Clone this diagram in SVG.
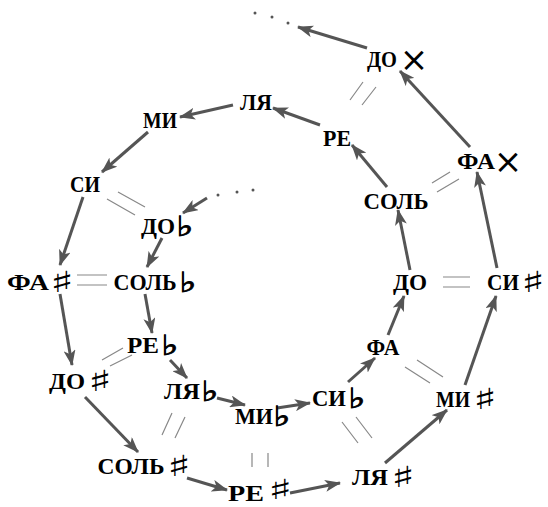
<svg xmlns="http://www.w3.org/2000/svg" width="548" height="507" viewBox="0 0 548 507">
<style>
.n{font-family:"Liberation Serif","Times New Roman",serif;font-weight:bold;font-size:23px;fill:#000;text-anchor:middle}
.s{font-family:"DejaVu Sans",sans-serif;font-weight:bold;font-size:29px;fill:#000;text-anchor:middle}
.f{font-family:"DejaVu Sans",sans-serif;font-weight:bold;font-size:28px;fill:#000;stroke:#000;stroke-width:0.8;text-anchor:middle}
.x{font-family:"DejaVu Sans",sans-serif;font-weight:normal;font-size:34px;fill:#000;text-anchor:middle}
.a{stroke:#555;stroke-width:3;fill:none;marker-end:url(#ah)}
.e{stroke:#888;stroke-width:1.2;fill:none}
.d{fill:#555}
</style>
<defs>
<marker id="ah" markerUnits="userSpaceOnUse" markerWidth="16" markerHeight="12" refX="15" refY="6" orient="auto">
<path d="M0,0 L16,6 L0,12 L4,6 Z" fill="#555"/>
</marker>
</defs>
<rect width="548" height="507" fill="#fff"/>
<g id="connectors">
<path class="a" d="M367,48 L298,27"/>
<path class="a" d="M470,147 L400,71"/>
<path class="a" d="M497,268 L477,172"/>
<path class="a" d="M465,385 L496,296"/>
<path class="a" d="M385,463 L447,410"/>
<path class="a" d="M290,493 L340,483"/>
<path class="a" d="M187,478 L227,490"/>
<path class="a" d="M85,397 L138,452"/>
<path class="a" d="M60,294 L72,365"/>
<path class="a" d="M83,197 L60,265"/>
<path class="a" d="M148,132 L102,172"/>
<path class="a" d="M233,105 L180,117"/>
<path class="a" d="M320,125 L273,108"/>
<path class="a" d="M387,187 L352,145"/>
<path class="a" d="M410,270 L398,210"/>
<path class="a" d="M388,335 L404,296"/>
<path class="a" d="M348,382 L375,358"/>
<path class="a" d="M277,408 L310,403"/>
<path class="a" d="M217,398 L245,405"/>
<path class="a" d="M170,360 L187,378"/>
<path class="a" d="M145,294 L152,333"/>
<path class="a" d="M162,238 L147,267"/>
<path class="a" d="M207,198 L183,213"/>
<path class="e" d="M363,82 L350,100 M376,87 L362,105"/>
<path class="e" d="M450,172 L432,183 M459,179 L437,192"/>
<path class="e" d="M443,277 L470,277 M443,287 L470,287"/>
<path class="e" d="M417,360 L443,377 M405,367 L430,383"/>
<path class="e" d="M342,422 L358,443 M356,417 L372,438"/>
<path class="e" d="M252,453 L252,467 M268,453 L268,467"/>
<path class="e" d="M172,413 L162,435 M185,417 L175,438"/>
<path class="e" d="M123,348 L102,360 M132,355 L110,366"/>
<path class="e" d="M77,275 L107,275 M77,285 L107,285"/>
<path class="e" d="M118,192 L145,207 M107,199 L135,215"/>
<circle class="d" cx="255" cy="13" r="1.5"/>
<circle class="d" cx="272" cy="17" r="1.5"/>
<circle class="d" cx="288" cy="23" r="1.5"/>
<circle class="d" cx="218" cy="195" r="1.5"/>
<circle class="d" cx="237" cy="192" r="1.5"/>
<circle class="d" cx="253" cy="190" r="1.5"/>
</g>
<g id="n-dox"><text class="n" x="382" y="67" textLength="30" lengthAdjust="spacingAndGlyphs">ДО</text><text class="x" x="414" y="71">×</text></g>
<g id="n-fax"><text class="n" x="476" y="169" textLength="38" lengthAdjust="spacingAndGlyphs">ФА</text><text class="x" x="508" y="173">×</text></g>
<g id="n-la"><text class="n" x="256" y="110" textLength="32" lengthAdjust="spacingAndGlyphs">ЛЯ</text></g>
<g id="n-re"><text class="n" x="337" y="146" textLength="28" lengthAdjust="spacingAndGlyphs">РЕ</text></g>
<g id="n-mi"><text class="n" x="160" y="128" textLength="34" lengthAdjust="spacingAndGlyphs">МИ</text></g>
<g id="n-si"><text class="n" x="85" y="192" textLength="30" lengthAdjust="spacingAndGlyphs">СИ</text></g>
<g id="n-dob"><text class="n" x="158" y="234" textLength="34" lengthAdjust="spacingAndGlyphs">ДО</text><text class="f" transform="translate(185,236) scale(1.3,1)">♭</text></g>
<g id="n-fas"><text class="n" x="28" y="290" textLength="42" lengthAdjust="spacingAndGlyphs">ФА</text><text class="s" transform="translate(62,292) scale(1.75,1)">♯</text></g>
<g id="n-solb"><text class="n" x="145" y="290" textLength="63" lengthAdjust="spacingAndGlyphs">СОЛЬ</text><text class="f" transform="translate(188,292) scale(1.3,1)">♭</text></g>
<g id="n-reb"><text class="n" x="143" y="353" textLength="32" lengthAdjust="spacingAndGlyphs">РЕ</text><text class="f" transform="translate(170,355) scale(1.3,1)">♭</text></g>
<g id="n-dos"><text class="n" x="67" y="389" textLength="36" lengthAdjust="spacingAndGlyphs">ДО</text><text class="s" transform="translate(100,391) scale(1.75,1)">♯</text></g>
<g id="n-lab"><text class="n" x="182" y="399" textLength="36" lengthAdjust="spacingAndGlyphs">ЛЯ</text><text class="f" transform="translate(210,401) scale(1.3,1)">♭</text></g>
<g id="n-mib"><text class="n" x="254" y="424" textLength="38" lengthAdjust="spacingAndGlyphs">МИ</text><text class="f" transform="translate(282,426) scale(1.3,1)">♭</text></g>
<g id="n-sols"><text class="n" x="131" y="474" textLength="67" lengthAdjust="spacingAndGlyphs">СОЛЬ</text><text class="s" transform="translate(179,476) scale(1.75,1)">♯</text></g>
<g id="n-res"><text class="n" x="246" y="501" textLength="36" lengthAdjust="spacingAndGlyphs">РЕ</text><text class="s" transform="translate(280,499) scale(1.75,0.95)">♯</text></g>
<g id="n-sib"><text class="n" x="329" y="406" textLength="34" lengthAdjust="spacingAndGlyphs">СИ</text><text class="f" transform="translate(357,408) scale(1.3,1)">♭</text></g>
<g id="n-fa"><text class="n" x="383" y="355" textLength="33" lengthAdjust="spacingAndGlyphs">ФА</text></g>
<g id="n-mis"><text class="n" x="453" y="407" textLength="34" lengthAdjust="spacingAndGlyphs">МИ</text><text class="s" transform="translate(485,409) scale(1.75,1)">♯</text></g>
<g id="n-las"><text class="n" x="370" y="485" textLength="36" lengthAdjust="spacingAndGlyphs">ЛЯ</text><text class="s" transform="translate(403,487) scale(1.75,1)">♯</text></g>
<g id="n-do"><text class="n" x="410" y="290" textLength="34" lengthAdjust="spacingAndGlyphs">ДО</text></g>
<g id="n-sis"><text class="n" x="503" y="290" textLength="32" lengthAdjust="spacingAndGlyphs">СИ</text><text class="s" transform="translate(533,292) scale(1.75,1)">♯</text></g>
<g id="n-sol"><text class="n" x="396" y="209" textLength="65" lengthAdjust="spacingAndGlyphs">СОЛЬ</text></g>
</svg>
